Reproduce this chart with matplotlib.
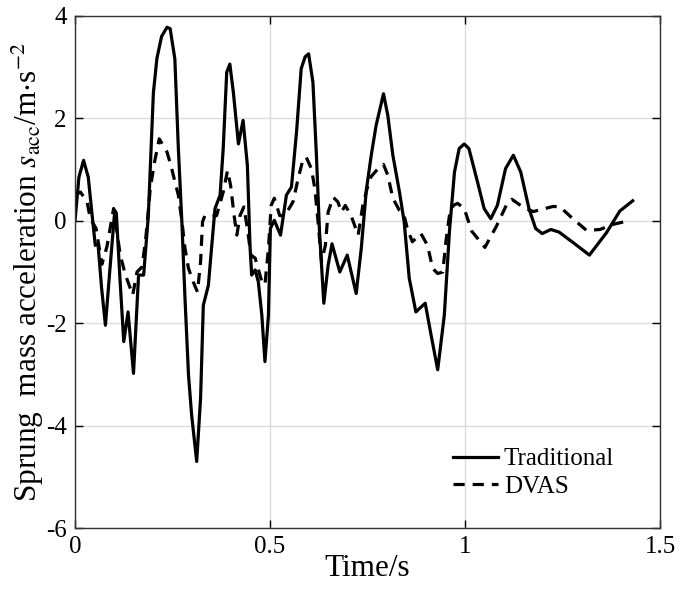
import matplotlib
matplotlib.use("Agg")
import matplotlib.pyplot as plt

plt.rcParams["font.family"] = "Liberation Serif"
plt.rcParams["mathtext.fontset"] = "stix"
plt.rcParams["axes.unicode_minus"] = False

# Traditional suspension (solid)
t_trad = [0.000, 0.010, 0.022, 0.034, 0.044, 0.052, 0.059, 0.068, 0.078, 0.090,
          0.102, 0.106, 0.115, 0.125, 0.136, 0.150, 0.163, 0.176, 0.188, 0.201,
          0.210, 0.222, 0.236, 0.244, 0.256, 0.265, 0.274, 0.282, 0.291, 0.299,
          0.312, 0.322, 0.329, 0.342, 0.350, 0.359, 0.372, 0.380, 0.389, 0.397,
          0.406, 0.419, 0.431, 0.442, 0.449, 0.453, 0.462, 0.470, 0.479, 0.487,
          0.496, 0.501, 0.511, 0.527, 0.542, 0.555, 0.568, 0.580, 0.590, 0.599,
          0.610, 0.619, 0.627, 0.638, 0.649, 0.659, 0.679, 0.698, 0.721, 0.734,
          0.747, 0.760, 0.772, 0.791, 0.802, 0.815, 0.832, 0.844, 0.857, 0.874,
          0.898, 0.913, 0.930, 0.947, 0.960, 0.973, 0.985, 0.998, 1.010, 1.032,
          1.049, 1.066, 1.083, 1.104, 1.124, 1.143, 1.164, 1.181, 1.198, 1.220,
          1.241, 1.278, 1.319, 1.363, 1.397, 1.430]
a_trad = [0.00, 0.85, 1.18, 0.85, 0.10, -0.48, -0.45, -1.30, -2.04, -0.90,
          0.20, 0.15, -1.10, -2.36, -1.78, -2.98, -1.06, -1.06, 0.10, 2.50,
          3.17, 3.60, 3.78, 3.75, 3.16, 1.41, -0.02, -1.51, -3.01, -3.79,
          -4.70, -3.46, -1.65, -1.26, -0.54, 0.24, 0.50, 1.41, 2.90, 3.06,
          2.51, 1.50, 1.96, 1.08, -0.54, -1.06, -0.96, -1.19, -1.84, -2.75,
          -1.84, -0.15, 0.01, -0.28, 0.50, 0.66, 1.73, 2.97, 3.20, 3.26,
          2.71, 1.28, -0.22, -1.61, -0.87, -0.45, -1.00, -0.67, -1.42, -0.54,
          0.60, 1.30, 1.86, 2.48, 2.06, 1.28, 0.56, -0.02, -1.12, -1.78,
          -1.61, -2.23, -2.91, -1.84, -0.22, 0.95, 1.41, 1.50, 1.41, 0.76,
          0.24, 0.04, 0.30, 1.02, 1.28, 0.95, 0.24, -0.15, -0.25, -0.17,
          -0.22, -0.43, -0.67, -0.23, 0.19, 0.39]

# DVAS suspension (dashed)
t_dvas = [0.000, 0.014, 0.031, 0.039, 0.054, 0.069, 0.082, 0.099, 0.116, 0.129,
          0.148, 0.159, 0.172, 0.182, 0.193, 0.204, 0.216, 0.236, 0.247, 0.252,
          0.265, 0.274, 0.282, 0.291, 0.303, 0.314, 0.322, 0.327, 0.333, 0.346,
          0.363, 0.380, 0.391, 0.399, 0.408, 0.415, 0.423, 0.433, 0.442, 0.451,
          0.462, 0.479, 0.487, 0.496, 0.503, 0.511, 0.525, 0.538, 0.559, 0.572,
          0.585, 0.593, 0.606, 0.615, 0.623, 0.632, 0.642, 0.649, 0.662, 0.674,
          0.683, 0.693, 0.708, 0.726, 0.738, 0.749, 0.759, 0.775, 0.791, 0.802,
          0.815, 0.832, 0.844, 0.852, 0.865, 0.887, 0.904, 0.917, 0.930, 0.943,
          0.951, 0.960, 0.970, 0.981, 0.998, 1.017, 1.051, 1.081, 1.107, 1.120,
          1.150, 1.175, 1.226, 1.244, 1.278, 1.312, 1.346, 1.380, 1.419]
a_dvas = [0.50, 0.56, 0.37, 0.05, -0.15, -0.85, -0.50, 0.24, -0.67, -1.05,
          -1.45, -1.00, -0.90, -0.30, 0.63, 1.15, 1.60, 1.34, 1.05, 0.89,
          0.50, 0.00, -0.54, -0.93, -1.19, -1.39, -0.80, -0.02, 0.10, 0.10,
          0.10, 0.56, 0.98, 0.69, 0.10, -0.28, 0.10, 0.27, -0.15, -0.67,
          -0.73, -1.19, -1.25, -0.54, 0.30, 0.44, 0.10, 0.10, 0.37, 0.82,
          1.21, 1.24, 1.02, 0.63, 0.00, -0.80, -0.48, 0.17, 0.46, 0.37,
          0.17, 0.30, 0.10, -0.28, 0.30, 0.63, 0.86, 1.00, 1.10, 0.89,
          0.44, 0.20, 0.10, -0.15, -0.41, -0.25, -0.48, -0.93, -1.03, -1.00,
          -0.41, 0.10, 0.30, 0.34, 0.24, -0.20, -0.52, -0.10, 0.32, 0.42,
          0.26, 0.18, 0.28, 0.27, 0.03, -0.19, -0.17, -0.07, 0.00]

fig = plt.figure(figsize=(6.85, 5.9), dpi=100)
ax = fig.add_axes([0.1095, 0.105, 0.854, 0.868])

ax.plot(t_trad, a_trad, color="black", lw=2.3, label="Traditional")
ax.plot(t_dvas, a_dvas, color="black", lw=2.3, linestyle=(0, (3.5, 2.5)), label="DVAS")

ax.set_xlim(0, 1.5)
ax.set_ylim(-6, 4)
ax.set_xticks([0, 0.5, 1, 1.5])
ax.set_xticklabels(["0", "0.5", "1", "1.5"])
ax.set_yticks([-6, -4, -2, 0, 2, 4])
ax.grid(True, color="#dcdcdc", lw=1.0)
ax.tick_params(direction="in", top=True, right=True, labelsize=18, length=6, width=1.0, pad=6)
for s in ax.spines.values():
    s.set_color("#333333")
    s.set_linewidth(1.0)

ax.set_xlabel("Time/s", fontsize=22.5, labelpad=-3)
ax.set_ylabel(r"Sprung  mass acceleration $s_{\rm acc}$/m$\cdot$s$^{-2}$", fontsize=22.5, labelpad=0)

ax.legend(loc="lower right", bbox_to_anchor=(0.96, 0.015), frameon=False, fontsize=18,
          handlelength=1.8, handletextpad=0.25, labelspacing=0.2)

fig.savefig("out.png", dpi=100)
